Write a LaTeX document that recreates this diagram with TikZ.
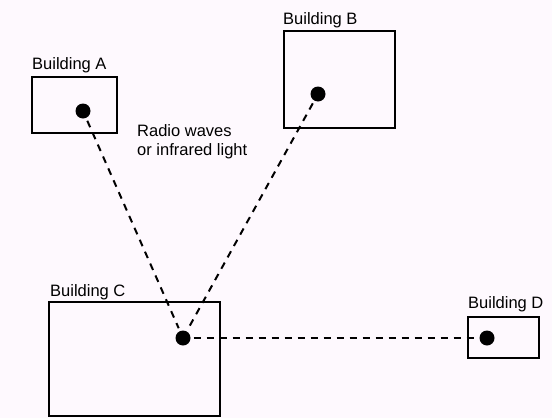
\documentclass[tikz,border=0pt]{standalone}
\usepackage{fontspec}
\setmainfont{Liberation Sans}
\definecolor{bgpink}{RGB}{254,249,254}
\begin{document}
\begin{tikzpicture}[x=1pt,y=-1pt,
  building/.style={draw=black,line width=2pt},
  dotnode/.style={circle,fill=black,inner sep=0pt,minimum size=15pt},
  label/.style={anchor=base west,inner sep=0pt,font=\fontsize{16.5}{19}\selectfont},
  wave/.style={line width=2pt,dash pattern=on 7pt off 6pt,shorten <=3pt,shorten >=3pt}]
\fill[bgpink] (0,0) rectangle (552,418);
\useasboundingbox (0,0) rectangle (552,418);
% buildings
\draw[building] (32,77) rectangle (117,133);
\draw[building] (284,31) rectangle (395,128);
\draw[building] (49,302) rectangle (220,416);
\draw[building] (468,317) rectangle (539,358);
% labels
\node[label] (la) at (32,69) {Building A};
\node[label] (lb) at (283,24) {Building B};
\node[label] (lc) at (50,296) {Building C};
\node[label] (ld) at (468,308) {Building D};
\node[label,align=left] (lt) at (137,155) {Radio waves\\or infrared light};
% transmitters
\node[dotnode] (da) at (83,111) {};
\node[dotnode] (db) at (318,94) {};
\node[dotnode] (dc) at (183,338) {};
\node[dotnode] (dd) at (487,338) {};
% links
\draw[wave] (da) -- (dc);
\draw[wave] (db) -- (dc);
\draw[wave] (dc) -- (dd);
\end{tikzpicture}
\end{document}
